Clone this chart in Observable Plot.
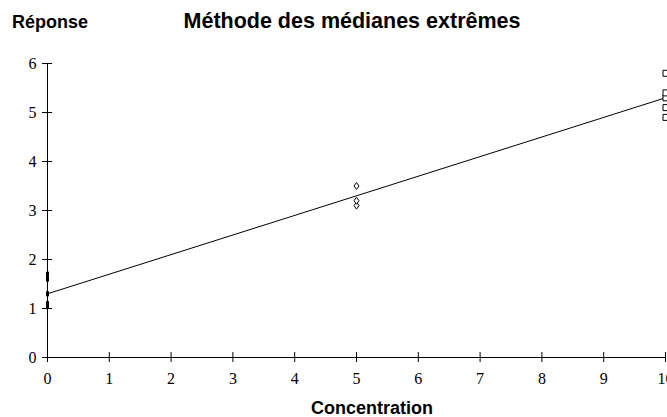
<!DOCTYPE html>
<html>
<head>
<meta charset="utf-8">
<script src="https://cdn.jsdelivr.net/npm/d3@7"></script>
<script src="https://cdn.jsdelivr.net/npm/@observablehq/plot@0.6"></script>
<style>
  body { margin: 0; background: #fff; }
  #chart { position: relative; width: 667px; height: 417px; font-family: "Liberation Sans", Arial, sans-serif; overflow: hidden; }
  #chart svg { position: absolute; left: 0; top: 0; }
  .lbl { position: absolute; font-weight: bold; white-space: nowrap; color: #000; }
</style>
</head>
<body>
<div id="chart">
  <div class="lbl" style="left:12px; top:12px; font-size:18px;">Réponse</div>
  <div class="lbl" style="left:352px; top:9px; font-size:21.5px; transform:translateX(-50%);">Méthode des médianes extrêmes</div>
  <div class="lbl" style="left:372px; top:398px; font-size:18px; transform:translateX(-50%);">Concentration</div>
</div>
<script>
// Axis ticks
const xTicks = [0, 1, 2, 3, 4, 5, 6, 7, 8, 9, 10];
const yTicks = [0, 1, 2, 3, 4, 5, 6];

// Responses observed at each concentration
const resp0 = [1.05, 1.1, 1.3, 1.6, 1.7];
const resp5 = [3.1, 3.2, 3.5];
const resp10 = [4.9, 5.1, 5.3, 5.4, 5.8];

// Line through the medians of the two extreme groups
const fitX = [0, 10];
const fitY = [1.3, 5.3];

const pts = (x, ys) => ys.map(y => ({x, y}));
const fit = fitX.map((x, i) => ({x, y: fitY[i]}));

// Marker shapes
const tallDiamond = {draw(ctx) { ctx.moveTo(0, -3.5); ctx.lineTo(2.5, 0); ctx.lineTo(0, 3.5); ctx.lineTo(-2.5, 0); ctx.closePath(); }};
const tallSquare = {draw(ctx) { ctx.moveTo(-2.5, -3); ctx.lineTo(2.5, -3); ctx.lineTo(2.5, 3); ctx.lineTo(-2.5, 3); ctx.closePath(); }};
const smallBlock = {draw(ctx) { ctx.moveTo(-1.5, -2.5); ctx.lineTo(1.5, -2.5); ctx.lineTo(1.5, 2.5); ctx.lineTo(-1.5, 2.5); ctx.closePath(); }};

const tickFont = {fontFamily: "'Liberation Serif', 'Times New Roman', serif", fontSize: 16};

const plot = Plot.plot({
  width: 667,
  height: 417,
  marginLeft: 47,
  marginRight: 2,
  marginTop: 63,
  marginBottom: 60,
  style: {background: "transparent", color: "#000"},
  x: {domain: [0, 10]},
  y: {domain: [0, 6]},
  marks: [
    Plot.axisX(xTicks, {tickSize: 0, tickPadding: 15, label: null, ...tickFont}),
    Plot.axisY(yTicks, {tickSize: 0, tickPadding: 11, label: null, ...tickFont}),
    Plot.ruleX([0], {stroke: "#000", strokeWidth: 1}),
    Plot.ruleY([0], {stroke: "#000", strokeWidth: 1}),
    Plot.ruleX(xTicks, {x: d => d, y1: 0, y2: 0, insetTop: -5, insetBottom: -5, stroke: "#000"}),
    Plot.ruleY(yTicks, {y: d => d, x1: 0, x2: 0, insetLeft: -5, insetRight: -5, stroke: "#000"}),
    Plot.line(fit, {x: "x", y: "y", stroke: "#000", strokeWidth: 1}),
    Plot.dot(pts(0, resp0), {x: "x", y: "y", symbol: smallBlock, fill: "#000", stroke: "none"}),
    Plot.dot(pts(5, resp5), {x: "x", y: "y", symbol: tallDiamond, fill: "#fff", stroke: "#000", strokeWidth: 1}),
    Plot.dot(pts(10, resp10), {x: "x", y: "y", symbol: tallSquare, fill: "#fff", stroke: "#000", strokeWidth: 1})
  ]
});
document.getElementById("chart").prepend(plot);
</script>
</body>
</html>
